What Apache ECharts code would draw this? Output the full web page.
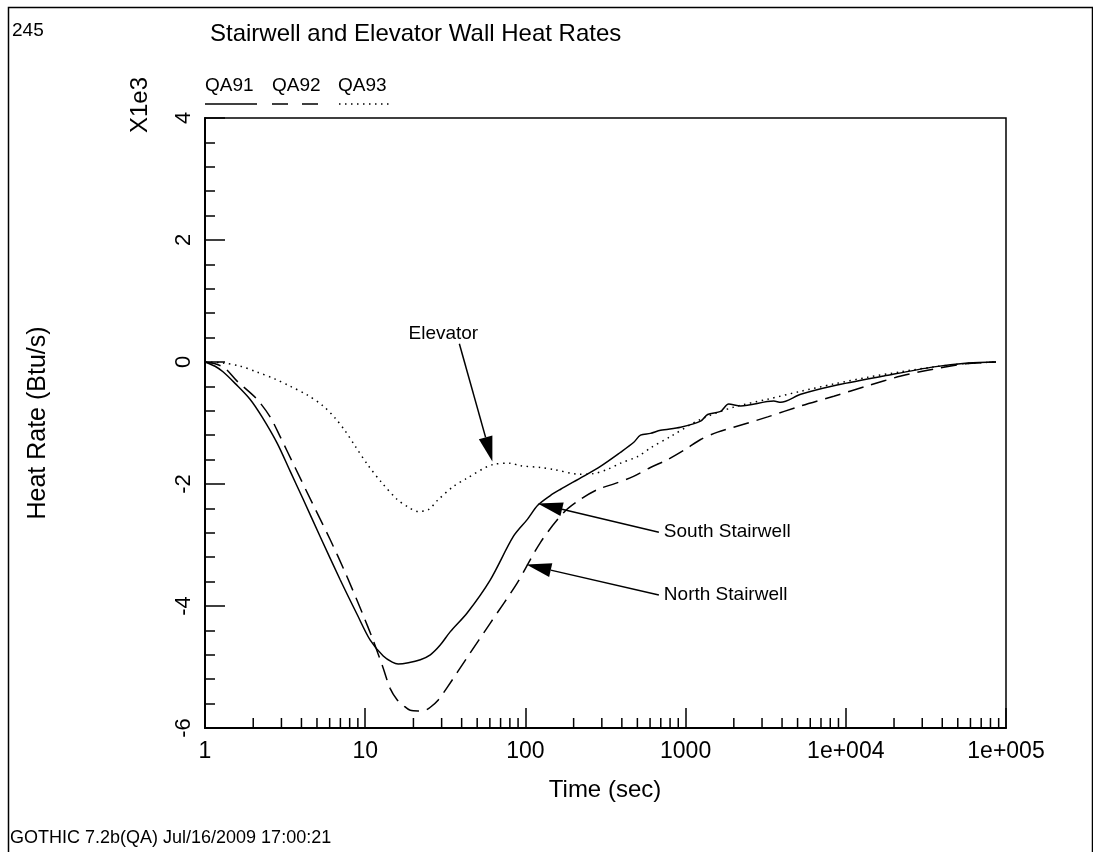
<!DOCTYPE html>
<html>
<head>
<meta charset="utf-8">
<script src="https://cdn.jsdelivr.net/npm/echarts@6/dist/echarts.min.js"></script>
<style>
  html, body { margin: 0; padding: 0; background: #ffffff; }
  #chart { width: 1093px; height: 852px; }
</style>
</head>
<body>
<div id="chart"></div>
<script>
// Wall heat rates, in units of 1e3 Btu/s, against time in seconds (log scale).
const FONT = '"Liberation Sans", Arial, Helvetica, sans-serif';

const xTickLabels = { 1: '1', 10: '10', 100: '100', 1000: '1000', 10000: '1e+004', 100000: '1e+005' };
const xMinorTicks = [
  2, 3, 4, 5, 6, 7, 8, 9,
  20, 30, 40, 50, 60, 70, 80, 90,
  200, 300, 400, 500, 600, 700, 800, 900,
  2000, 3000, 4000, 5000, 6000, 7000, 8000, 9000,
  20000, 30000, 40000, 50000, 60000, 70000, 80000, 90000
];

// QA91 - South Stairwell
const qa91 = [
  [1, 0], [1.155, -0.07], [1.295, -0.16], [1.54, -0.35], [1.91, -0.61], [2.27, -0.90],
  [2.82, -1.33], [3.40, -1.79], [4.10, -2.25], [5.23, -2.86], [6.98, -3.57], [8.91, -4.14],
  [10.75, -4.56], [12.96, -4.82], [14.75, -4.92], [16.07, -4.95], [18.6, -4.93], [22.1, -4.88],
  [25.5, -4.80], [29.4, -4.64], [34.0, -4.42], [43.4, -4.11], [60.4, -3.57], [84.1, -2.86],
  [102.9, -2.58], [119.4, -2.35], [143, -2.19], [165, -2.09], [230, -1.875], [294, -1.71],
  [392, -1.48], [473, -1.32], [523, -1.20], [603, -1.17], [698, -1.12], [931, -1.07],
  [1241, -0.97], [1373, -0.86], [1655, -0.81], [1857, -0.69], [2208, -0.72], [3548, -0.64],
  [3925, -0.66], [5234, -0.53], [8414, -0.39], [17280, -0.23], [35480, -0.08], [57900, -0.016],
  [86600, 0]
];

// QA92 - North Stairwell
const qa92 = [
  [1, 0], [1.155, -0.03], [1.33, -0.10], [1.58, -0.31], [2.11, -0.61], [2.55, -0.90],
  [2.94, -1.22], [3.65, -1.73], [4.73, -2.34], [6.04, -2.91], [7.5, -3.45], [9.57, -4.11],
  [11.2, -4.56], [12.96, -5.02], [14.3, -5.35], [15.85, -5.54], [17.3, -5.63], [19.1, -5.71],
  [21.4, -5.72], [23.7, -5.71], [25.5, -5.66], [28.6, -5.54], [32.6, -5.33], [43.4, -4.84],
  [60.4, -4.28], [89, -3.62], [124, -2.96], [173, -2.47], [221, -2.25], [282, -2.09],
  [365, -1.99], [473, -1.875], [603, -1.73], [772, -1.60], [1000, -1.43], [1241, -1.27],
  [1585, -1.15], [1995, -1.07], [3254, -0.90], [5234, -0.72], [8414, -0.56], [13720, -0.39],
  [22080, -0.23], [35480, -0.115], [56200, -0.03], [86600, 0]
];

// QA93 - Elevator
const qa93 = [
  [1, 0], [1.295, -0.016], [1.65, -0.066], [2.11, -0.164], [2.74, -0.28], [3.39, -0.395],
  [4.34, -0.54], [5.46, -0.72], [6.49, -0.92], [7.5, -1.13], [8.66, -1.38], [10.4, -1.69],
  [12.8, -1.99], [15.8, -2.25], [18.6, -2.38], [21.4, -2.45], [24.8, -2.42], [28.2, -2.27],
  [35.5, -2.04], [42.2, -1.92], [63, -1.68], [80.5, -1.66], [93, -1.70], [124, -1.73],
  [149, -1.76], [219, -1.84], [266, -1.83], [325, -1.76], [392, -1.66], [501, -1.55],
  [603, -1.41], [806, -1.22], [1241, -0.94], [1995, -0.74], [3254, -0.61], [5234, -0.48],
  [8414, -0.36], [13720, -0.25], [22080, -0.16], [35480, -0.08], [56200, -0.025], [86600, 0]
];

const seriesNames = ['QA91', 'QA92', 'QA93'];

// Arrow callouts: label, arrow tail and arrow tip in data units.
const callouts = [
  { text: 'Elevator',        from: [38.7, 0.30],  to: [62.2, -1.63],  place: 'above' },
  { text: 'South Stairwell', from: [681, -2.79],  to: [119.4, -2.32], place: 'right' },
  { text: 'North Stairwell', from: [681, -3.82],  to: [101.4, -3.32], place: 'right' }
];

const DASH = [16, 8];
const DOT = [1.5, 4.5];

const chart = echarts.init(document.getElementById('chart'), null, { renderer: 'canvas' });

function curve(name, data, type) {
  return {
    name: name,
    type: 'line',
    data: data,
    showSymbol: false,
    smooth: 0.3,
    lineStyle: { color: '#000', width: 1.5, type: type, cap: 'butt' },
    silent: true,
    z: 3
  };
}

const option = {
  animation: false,
  backgroundColor: '#ffffff',
  grid: {
    left: 205, right: 87, top: 118, bottom: 124,
    show: true, borderColor: '#000', borderWidth: 1.5, backgroundColor: 'transparent'
  },
  xAxis: {
    type: 'log',
    logBase: 10,
    min: 1,
    max: 100000,
    axisLine: { show: true, onZero: false, lineStyle: { color: '#000', width: 2 } },
    axisTick: { show: true, inside: true, length: 20, lineStyle: { color: '#000', width: 1.5 } },
    minorTick: { show: false },
    splitLine: { show: false },
    axisLabel: {
      margin: 12,
      color: '#000',
      fontFamily: FONT,
      fontSize: 23,
      formatter: function (v) { return xTickLabels[Math.round(v)] || ''; }
    }
  },
  yAxis: {
    type: 'value',
    min: -6,
    max: 4,
    interval: 2,
    axisLine: { show: true, onZero: false, lineStyle: { color: '#000', width: 2 } },
    axisTick: { show: true, inside: true, length: 20, lineStyle: { color: '#000', width: 1.5 } },
    minorTick: { show: true, splitNumber: 5, length: 10, lineStyle: { color: '#000', width: 1.5 } },
    splitLine: { show: false },
    axisLabel: {
      rotate: 90,
      margin: 10,
      color: '#000',
      fontFamily: FONT,
      fontSize: 22
    }
  },
  series: [
    curve(seriesNames[0], qa91, 'solid'),
    curve(seriesNames[1], qa92, DASH),
    curve(seriesNames[2], qa93, DOT),
    {
      // minor decade ticks along the time axis
      type: 'custom',
      silent: true,
      clip: false,
      data: xMinorTicks.map(function (v) { return [v, -6]; }),
      renderItem: function (params, api) {
        const p = api.coord([api.value(0), api.value(1)]);
        return {
          type: 'line',
          shape: { x1: p[0], y1: p[1], x2: p[0], y2: p[1] - 10 },
          style: { stroke: '#000', lineWidth: 1.5 }
        };
      },
      z: 4
    },
    {
      // labelled arrows
      type: 'custom',
      silent: true,
      clip: false,
      data: callouts.map(function (c) { return c.to; }),
      renderItem: function (params, api) {
        const c = callouts[params.dataIndex];
        const p0 = api.coord(c.from);
        const p1 = api.coord(c.to);
        const dx = p1[0] - p0[0], dy = p1[1] - p0[1];
        const len = Math.sqrt(dx * dx + dy * dy);
        const ux = dx / len, uy = dy / len;
        const headLen = 25, headHalf = 7;
        const bx = p1[0] - ux * headLen, by = p1[1] - uy * headLen;
        const nx = -uy, ny = ux;
        let tx, ty, align, valign;
        if (c.place === 'above') {
          tx = p0[0] - 16; ty = p0[1] - 10; align = 'center'; valign = 'middle';
        } else {
          tx = p0[0] + 5; ty = p0[1]; align = 'left'; valign = 'middle';
        }
        return {
          type: 'group',
          children: [
            { type: 'line', shape: { x1: p0[0], y1: p0[1], x2: bx, y2: by },
              style: { stroke: '#000', lineWidth: 1.5 } },
            { type: 'polygon',
              shape: { points: [[p1[0], p1[1]], [bx + nx * headHalf, by + ny * headHalf], [bx - nx * headHalf, by - ny * headHalf]] },
              style: { fill: '#000' } },
            { type: 'text', x: tx, y: ty,
              style: { text: c.text, fill: '#000', font: '19px ' + FONT, textAlign: align, textVerticalAlign: valign } }
          ]
        };
      },
      z: 5
    }
  ],
  graphic: [
    { type: 'rect', left: 6, top: 5, shape: { x: 0, y: 0, width: 1084, height: 900 },
      style: { fill: 'none', stroke: '#000', lineWidth: 1.5 }, silent: true },
    { type: 'text', x: 12, y: 31, style: { text: '245', fill: '#000', font: '19px ' + FONT, textVerticalAlign: 'middle' } },
    { type: 'text', x: 210, y: 34, style: { text: 'Stairwell and Elevator Wall Heat Rates', fill: '#000', font: '24px ' + FONT, textVerticalAlign: 'middle' } },
    // legend
    { type: 'text', x: 205, y: 86, style: { text: seriesNames[0], fill: '#000', font: '19px ' + FONT, textVerticalAlign: 'middle' } },
    { type: 'text', x: 272, y: 86, style: { text: seriesNames[1], fill: '#000', font: '19px ' + FONT, textVerticalAlign: 'middle' } },
    { type: 'text', x: 338, y: 86, style: { text: seriesNames[2], fill: '#000', font: '19px ' + FONT, textVerticalAlign: 'middle' } },
    { type: 'line', shape: { x1: 205, y1: 104, x2: 257, y2: 104 }, style: { stroke: '#000', lineWidth: 1.5 } },
    { type: 'line', shape: { x1: 272, y1: 104, x2: 320, y2: 104 }, style: { stroke: '#000', lineWidth: 1.5, lineDash: [16, 14] } },
    { type: 'line', shape: { x1: 339, y1: 104, x2: 393, y2: 104 }, style: { stroke: '#000', lineWidth: 1.5, lineDash: DOT } },
    // axis titles
    { type: 'text', x: 140, y: 105, rotation: Math.PI / 2,
      style: { text: 'X1e3', fill: '#000', font: '24px ' + FONT, textAlign: 'center', textVerticalAlign: 'middle' } },
    { type: 'text', x: 38, y: 423, rotation: Math.PI / 2,
      style: { text: 'Heat Rate (Btu/s)', fill: '#000', font: '25px ' + FONT, textAlign: 'center', textVerticalAlign: 'middle' } },
    { type: 'text', x: 605, y: 790,
      style: { text: 'Time (sec)', fill: '#000', font: '24px ' + FONT, textAlign: 'center', textVerticalAlign: 'middle' } },
    { type: 'text', x: 10, y: 838,
      style: { text: 'GOTHIC 7.2b(QA) Jul/16/2009 17:00:21', fill: '#000', font: '18px ' + FONT, textVerticalAlign: 'middle' } }
  ]
};

chart.setOption(option);
</script>
</body>
</html>
